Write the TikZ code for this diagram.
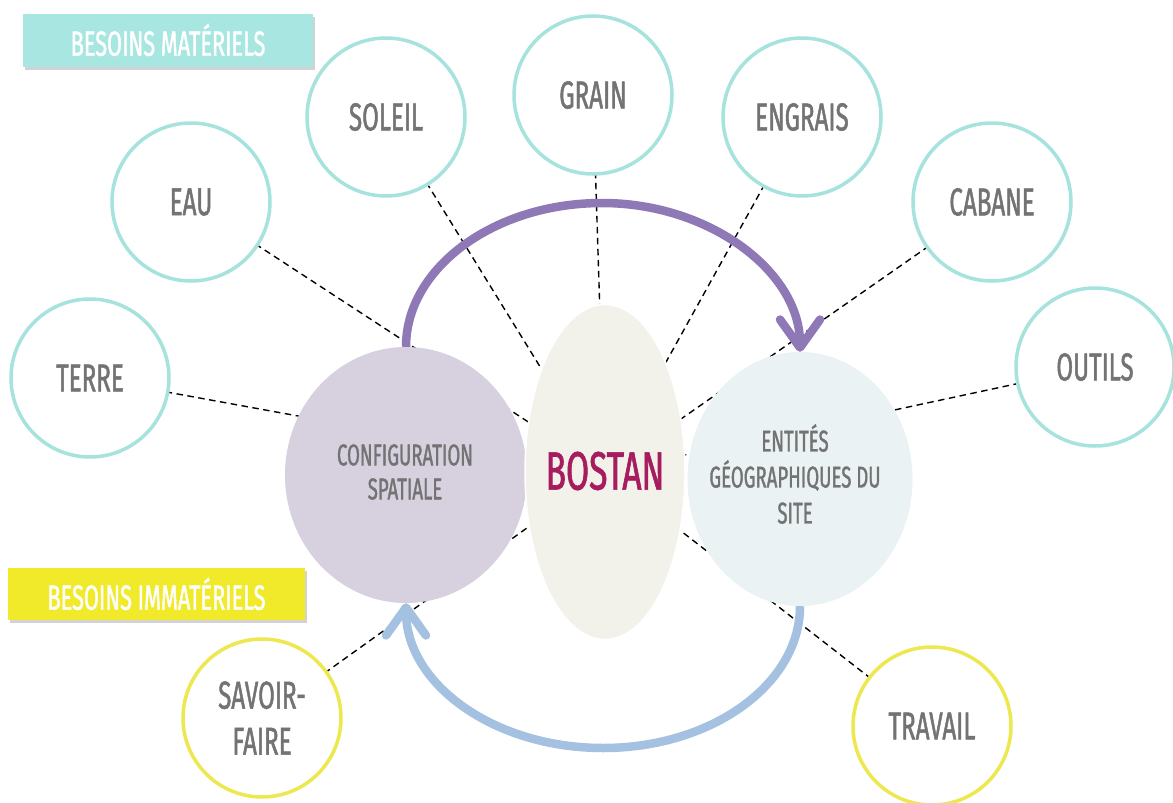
\documentclass[tikz,border=0pt]{standalone}
\usepackage{fontspec}
\setmainfont[FakeStretch=0.62, FakeBold=1.2]{Fira Sans}
\usetikzlibrary{arrows.meta,shadows,shapes.geometric}
\definecolor{tealline}{HTML}{A6E3DD}
\definecolor{tealbox}{HTML}{A7E6E1}
\definecolor{yelline}{HTML}{EDE84F}
\definecolor{yelbox}{HTML}{F1EA2A}
\definecolor{configfill}{HTML}{D6D0DF}
\definecolor{bostanfill}{HTML}{F2F1EA}
\definecolor{entfill}{HTML}{EAF2F4}
\definecolor{purplearrow}{HTML}{8E78B6}
\definecolor{bluearrow}{HTML}{A5C1E1}
\definecolor{bostantext}{HTML}{A61C5E}
\definecolor{graytext}{HTML}{737373}
\pgfdeclarelayer{bg}
\pgfsetlayers{bg,main}
\begin{document}
\begin{tikzpicture}[x=1pt,y=-1pt,
  need/.style={circle, draw=tealline, line width=3.5pt, fill=white, minimum size=158pt, inner sep=0pt,
    text=graytext, font=\fontsize{39}{46}\selectfont, align=center},
  yneed/.style={need, draw=yelline},
  centre/.style={ellipse, inner sep=0pt, draw=none},
  ctext/.style={text=graytext, font=\fontsize{30}{34}\selectfont, align=center, inner sep=0pt},
  labelbox/.style={rectangle, inner sep=0pt, text=white, font=\fontsize{35}{38}\selectfont,
    drop shadow={shadow xshift=2pt, shadow yshift=-3pt, opacity=0.35}},
  dashline/.style={black, line width=1.4pt, dash pattern=on 6.5pt off 4.5pt},
  bigarrow/.style={line width=8.5pt, -{Straight Barb[length=28pt, width=40pt, round]}}
]
\useasboundingbox (0,0) rectangle (1173,803);

% outer needs
\node[need] (terre) at (90,378) {TERRE};
\node[need] (eau) at (191,202) {EAU};
\node[need] (soleil) at (386,117) {SOLEIL};
\node[need] (grain) at (593,95) {GRAIN};
\node[need] (engrais) at (802,117) {ENGRAIS};
\node[need] (cabane) at (992,202) {CABANE};
\node[need] (outils) at (1095,367) {OUTILS};
\node[yneed] (savoir) at (262,718) {SAVOIR-\\FAIRE};
\node[yneed] (travail) at (932,726) {TRAVAIL};

% central shapes
\node[centre, fill=configfill, minimum width=242pt, minimum height=256pt] (config) at (406,475) {};
\node[centre, fill=entfill, minimum width=225pt, minimum height=254pt] (ent) at (800,479) {};
\node[centre, fill=bostanfill, draw=white, line width=1.5pt, minimum width=160pt, minimum height=335pt] (bostan) at (605,472) {};

\node[ctext] (configlbl) at (405,472) {CONFIGURATION\\SPATIALE};
\node[ctext, font=\fontsize{30}{36}\selectfont] (entlbl) at (795,474) {ENTITÉS\\GÉOGRAPHIQUES DU\\SITE};
\node[inner sep=0pt, text=bostantext, font=\fontsize{54}{56}\selectfont] (bostanlbl) at (605,471) {BOSTAN};

% dashed links behind everything
\begin{pgfonlayer}{bg}
\fill[white] (0,0) rectangle (1173,803);
\foreach \n in {terre,eau,soleil,grain,engrais,cabane,outils,savoir,travail}
  \draw[dashline] (\n.center) -- (bostan.center);
\end{pgfonlayer}

% label boxes
\node[labelbox, fill=tealbox, minimum width=290pt, minimum height=53pt] (mat) at (168,40) {BESOINS MATÉRIELS};
\node[labelbox, fill=yelbox, minimum width=297pt, minimum height=52pt] (immat) at (156.5,594) {BESOINS IMMATÉRIELS};

% cycle arrows
\coordinate (ptop) at (602,203);
\coordinate (pbot) at (603,748);
\draw[bigarrow, purplearrow] (config.north) .. controls (406,268) and (494,203) .. (ptop)
  .. controls (710,203) and (800,272) .. (ent.north);
\draw[bigarrow, bluearrow] (ent.south) .. controls (800,684) and (712,748) .. (pbot)
  .. controls (494,748) and (406,684) .. (config.south);
\end{tikzpicture}
\end{document}
